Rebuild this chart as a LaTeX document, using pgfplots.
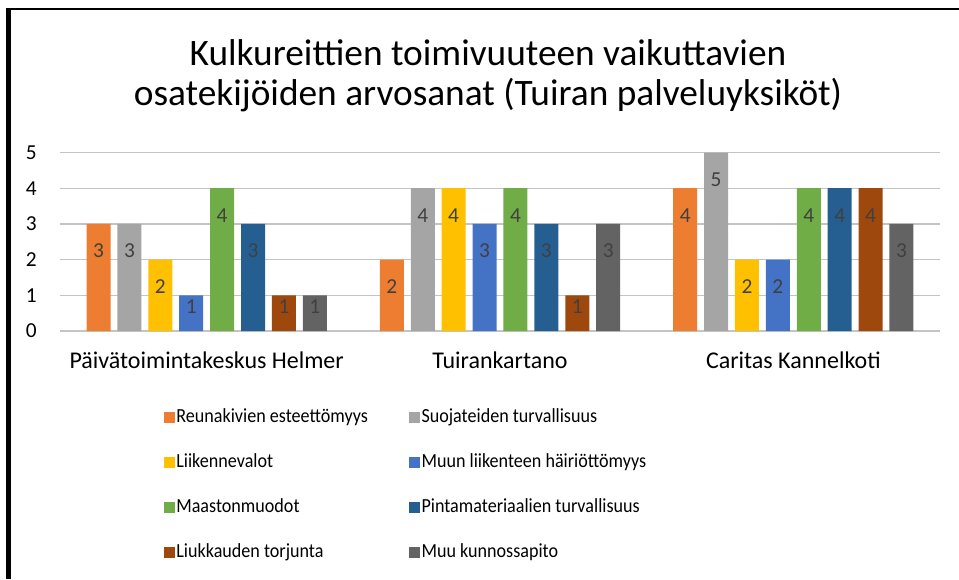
\documentclass[border=0pt]{standalone}
\usepackage{fontspec}
\setmainfont{Carlito}
\newfontfamily\legfont[FakeStretch=0.905]{Carlito}
\usepackage{pgfplots}
\pgfplotsset{compat=1.18}

\definecolor{c1}{HTML}{ED7D31}
\definecolor{c2}{HTML}{A5A5A5}
\definecolor{c3}{HTML}{FFC000}
\definecolor{c4}{HTML}{4472C4}
\definecolor{c5}{HTML}{70AD47}
\definecolor{c6}{HTML}{255E91}
\definecolor{c7}{HTML}{9E480E}
\definecolor{c8}{HTML}{636363}
\definecolor{gridc}{HTML}{C4C4C4}
\definecolor{lblc}{HTML}{404040}

\pgfplotsset{
  sq/.style={legend image code/.code={\fill[##1] (0pt,-4.125pt) rectangle (8.25pt,4.125pt);}},
}

\begin{document}
\begin{tikzpicture}
\begin{scope}[x=0.75pt,y=0.75pt]
  \path[use as bounding box] (0,0) rectangle (959,579);
  \fill[black] (6,0) rectangle (10.5,571);
  \fill[black] (6,568.5) rectangle (959,571);
  \node[anchor=base, font=\fontsize{28pt}{33pt}\selectfont] at (488,513) {Kulkureittien toimivuuteen vaikuttavien};
  \node[anchor=base, font=\fontsize{28pt}{33pt}\selectfont] at (488,473) {osatekijöiden arvosanat (Tuiran palveluyksiköt)};
\end{scope}

\begin{axis}[
  at={(45pt,186pt)}, anchor=south west,
  scale only axis, width=660pt, height=133.875pt,
  ymin=0, ymax=5, xmin=-0.5, xmax=2.5,
  ybar=5.175pt, bar width=18pt,
  axis line style={draw=none},
  ytick={0,1,2,3,4,5},
  xtick={0,1,2},
  xticklabels={Päivätoimintakeskus Helmer, Tuirankartano, Caritas Kannelkoti},
  ymajorgrids, grid style={color=gridc, line width=1pt},
  major tick length=0pt, tick style={draw=none},
  tick label style={color=black},
  /pgf/number format/assume math mode=true,
  yticklabel style={font=\fontsize{16pt}{19pt}\selectfont, anchor=east, inner sep=0pt, xshift=-17.25pt},
  xticklabel style={font=\fontsize{18pt}{21pt}\selectfont, anchor=base, inner sep=0pt, yshift=-27.75pt},
  nodes near coords,
  visualization depends on=rawy\as\rawy,
  every node near coord/.append style={font=\fontsize{16pt}{19pt}\selectfont, color=lblc, anchor=center,
    yshift={ifthenelse(\rawy<1.5,-8.25,-20.25)}},
  legend columns=2, legend cell align=left,
  legend style={draw=none, fill=none, inner sep=0pt, outer sep=0pt,
    at={(axis description cs:0.1182,-0.428)}, anchor=north west,
    font=\legfont\fontsize{15pt}{18pt}\selectfont,
    row sep=18.25pt,
    /tikz/every even column/.append style={column sep=30pt},
    nodes={inner sep=1pt, text height=10.5pt, text depth=3pt}},
]
\addplot[fill=c1, draw=none, sq] coordinates {(0,3) (1,2) (2,4)};
\addplot[fill=c2, draw=none, sq] coordinates {(0,3) (1,4) (2,5)};
\addplot[fill=c3, draw=none, sq] coordinates {(0,2) (1,4) (2,2)};
\addplot[fill=c4, draw=none, sq] coordinates {(0,1) (1,3) (2,2)};
\addplot[fill=c5, draw=none, sq] coordinates {(0,4) (1,4) (2,4)};
\addplot[fill=c6, draw=none, sq] coordinates {(0,3) (1,3) (2,4)};
\addplot[fill=c7, draw=none, sq] coordinates {(0,1) (1,1) (2,4)};
\addplot[fill=c8, draw=none, sq] coordinates {(0,1) (1,3) (2,3)};
\legend{Reunakivien esteettömyys, Suojateiden turvallisuus,
  Liikennevalot, Muun liikenteen häiriöttömyys,
  Maastonmuodot, Pintamateriaalien turvallisuus,
  Liukkauden torjunta, Muu kunnossapito}
\end{axis}
\end{tikzpicture}
\end{document}
